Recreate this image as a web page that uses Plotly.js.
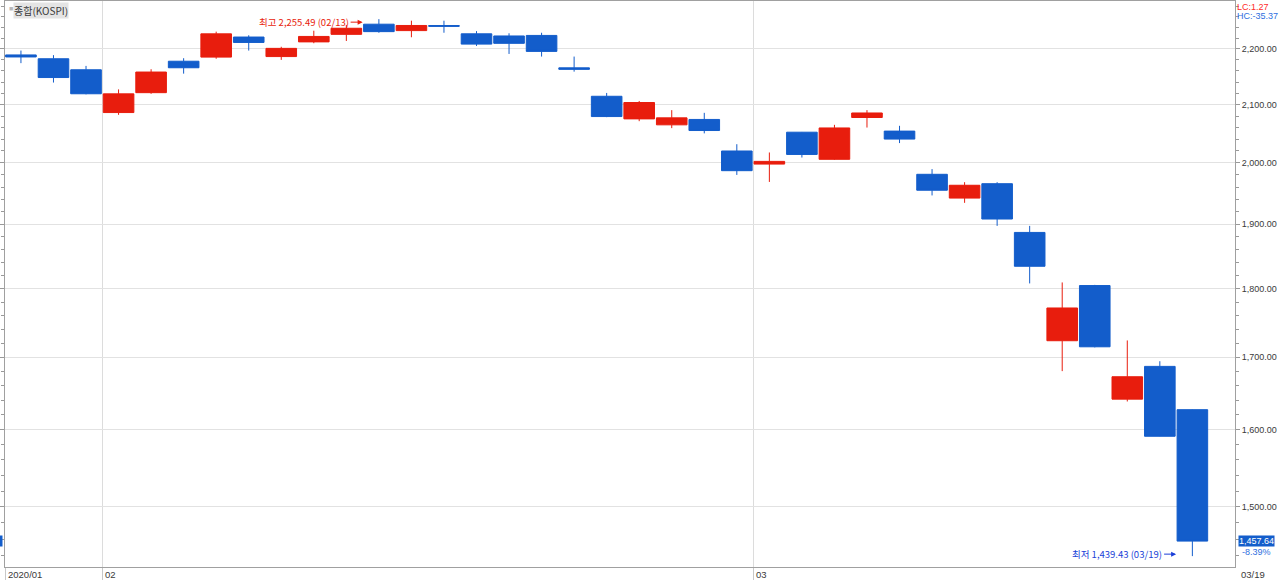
<!DOCTYPE html>
<html>
<head>
<meta charset="utf-8">
<script src="https://cdn.plot.ly/plotly-3.0.1.min.js"></script>
<style>
  html, body { margin: 0; padding: 0; background: #ffffff; }
  #chart { width: 1280px; height: 580px; }
</style>
</head>
<body>
<div id="chart"></div>
<script>
// ---- data (KOSPI daily, 2020/01/29 - 2020/03/19) ----
const dates = ['01/29','01/30','01/31',
  '02/03','02/04','02/05','02/06','02/07','02/10','02/11','02/12','02/13','02/14',
  '02/17','02/18','02/19','02/20','02/21','02/24','02/25','02/26','02/27','02/28',
  '03/02','03/03','03/04','03/05','03/06','03/09','03/10','03/11','03/12','03/13',
  '03/16','03/17','03/18','03/19'];
const openVals = [2189, 2182, 2162,
  2086, 2121, 2177.5, 2185, 2222, 2186, 2213, 2227, 2246, 2234,
  2243.5, 2228, 2224, 2225, 2165.5, 2114.6, 2075, 2064.7, 2074, 2020,
  1998, 2052, 2006, 2077.4, 2053.9, 1981, 1942, 1965.5, 1887, 1723.6,
  1805, 1641.4, 1687, 1627];
const highVals = [2197, 2188.6, 2169,
  2126.8, 2163, 2183, 2232, 2225.3, 2204, 2233.8, 2244.6, 2255.49, 2252.6,
  2252.6, 2233, 2229, 2230, 2186, 2120.5, 2106.3, 2090.2, 2085.5, 2031.5,
  2017.5, 2052.4, 2064.7, 2090.2, 2063, 1989.6, 1968, 1968, 1897.4, 1809.7,
  1806, 1724, 1694.3, 1627.3];
const lowVals = [2174, 2139, 2118,
  2082, 2119, 2155, 2182, 2197, 2180, 2210.5, 2214.7, 2230, 2221.6,
  2230, 2205.5, 2190.8, 2186, 2158.6, 2078, 2071, 2059, 2050, 1980,
  1968.4, 2009, 2005, 2060, 2033.4, 1946.3, 1934.3, 1897.4, 1808.2, 1680.3,
  1714, 1638.2, 1591, 1439.43];
const closeVals = [2185.28, 2148.00, 2119.01,
  2118.88, 2157.90, 2165.63, 2227.94, 2211.95, 2201.07, 2223.12, 2238.38, 2232.08, 2243.59,
  2242.17, 2208.88, 2210.34, 2195.50, 2162.84, 2079.04, 2103.61, 2076.77, 2054.89, 1987.01,
  2002.51, 2014.15, 2059.33, 2085.26, 2040.22, 1954.77, 1962.93, 1908.27, 1834.33, 1771.44,
  1714.86, 1672.44, 1591.20, 1457.64];
const yearLabel = '2020';
const seriesName = '종합(KOSPI)';
const yTickVals = [1500, 1600, 1700, 1800, 1900, 2000, 2100, 2200];

// ---- derived ----
const idx = dates.map((d, i) => i);
const fmt2 = v => v.toLocaleString('en-US', {minimumFractionDigits: 2, maximumFractionDigits: 2});
const L = v => Math.log10(v); // annotation coordinates on a log axis
let hiIdx = 0, loIdx = 0;
highVals.forEach((v, i) => { if (v > highVals[hiIdx]) hiIdx = i; });
lowVals.forEach((v, i) => { if (v < lowVals[loIdx]) loIdx = i; });
const last = closeVals.length - 1;
const lastClose = closeVals[last];
const chg = (lastClose / closeVals[last - 1] - 1) * 100;
const lc = (lastClose / lowVals[loIdx] - 1) * 100;
const hc = (lastClose / highVals[hiIdx] - 1) * 100;

const xRange = [-0.49, dates.length - 1 + 1.31];
const monthBounds = [];
const monthLabels = [];
dates.forEach((d, i) => {
  if (i > 0 && d.slice(0, 2) !== dates[i - 1].slice(0, 2)) {
    monthBounds.push(i - 0.5);
    monthLabels.push(d.slice(0, 2));
  }
});
const minorVals = [];
for (let v = 1440; v <= 2300; v += 20) if (v % 100 !== 0) minorVals.push(v);

const RED = '#e81d0d';
const BLUE = '#135dcb';
const GRAY_TXT = '#3a3a3a';
const baseFont = 'Liberation Sans, Arial, sans-serif';
const krFont = 'Noto Sans CJK KR, sans-serif';

const trace = {
  type: 'candlestick',
  x: idx,
  open: openVals, high: highVals, low: lowVals, close: closeVals,
  increasing: { line: { color: RED, width: 1 }, fillcolor: RED },
  decreasing: { line: { color: BLUE, width: 1 }, fillcolor: BLUE },
  whiskerwidth: 0,
  hoverinfo: 'skip',
  showlegend: false
};

const annotations = [
  { xref: 'paper', yref: 'paper', x: 8 / 1230, y: 1, xanchor: 'left', yanchor: 'top', yshift: -1,
    text: seriesName, showarrow: false, bgcolor: '#e4e4e4', borderpad: 0,
    font: { family: krFont, size: 10, color: GRAY_TXT } },
  { xref: 'paper', yref: 'paper', x: 1.5 / 1230, y: 1, xanchor: 'left', yanchor: 'top', yshift: -2,
    text: '■', showarrow: false, font: { family: baseFont, size: 7, color: '#b8b8b8' } },
  { xref: 'paper', yref: 'paper', x: 1, y: 1, xanchor: 'left', yanchor: 'top', xshift: 0, yshift: 1,
    text: 'LC:' + lc.toFixed(2), showarrow: false, font: { family: baseFont, size: 9, color: '#ff2a2a' } },
  { xref: 'paper', yref: 'paper', x: 1, y: 1, xanchor: 'left', yanchor: 'top', xshift: 0, yshift: -8,
    text: 'HC:' + hc.toFixed(2), showarrow: false, font: { family: baseFont, size: 9, color: '#2f6fe0' } },
  { x: hiIdx - 0.5, y: L(highVals[hiIdx]), xref: 'x', yref: 'y', yshift: -3,
    text: '최고 ' + fmt2(highVals[hiIdx]) + ' (' + dates[hiIdx] + ')',
    showarrow: true, ax: -12, ay: 0, xanchor: 'right', arrowhead: 2, arrowsize: 1, arrowwidth: 1,
    arrowcolor: RED, standoff: 0, startstandoff: 0,
    font: { family: krFont, size: 9.5, color: RED } },
  { x: loIdx - 0.5, y: L(lowVals[loIdx]), xref: 'x', yref: 'y', yshift: 2,
    text: '최저 ' + fmt2(lowVals[loIdx]) + ' (' + dates[loIdx] + ')',
    showarrow: true, ax: -12, ay: 0, xanchor: 'right', arrowhead: 2, arrowsize: 1, arrowwidth: 1,
    arrowcolor: '#1a3fd8', standoff: 0, startstandoff: 0,
    font: { family: krFont, size: 9.5, color: '#1a3fd8' } },
  { xref: 'paper', yref: 'y', x: 1, y: L(lastClose), xanchor: 'left', yanchor: 'middle', xshift: 3,
    text: fmt2(lastClose), showarrow: false, bgcolor: BLUE, borderpad: 0,
    font: { family: baseFont, size: 9, color: '#ffffff' } },
  { xref: 'paper', yref: 'y', x: 1, y: L(lastClose), xanchor: 'left', yanchor: 'middle', xshift: 5, yshift: -11,
    text: chg.toFixed(2) + '%', showarrow: false,
    font: { family: baseFont, size: 9, color: '#2f6fe0' } },
  { xref: 'paper', yref: 'y', x: 0, y: L(lastClose), xanchor: 'right', yanchor: 'middle', xshift: -2,
    text: '&nbsp;', showarrow: false, bgcolor: BLUE, borderpad: 0,
    font: { family: baseFont, size: 9, color: BLUE } },
  { xref: 'x', yref: 'paper', x: xRange[0], y: 0, xanchor: 'left', yanchor: 'top', xshift: 1, yshift: 0,
    text: yearLabel + '/' + dates[0].slice(0, 2), showarrow: false,
    font: { family: baseFont, size: 9.5, color: GRAY_TXT } },
  { xref: 'paper', yref: 'paper', x: 1, y: 0, xanchor: 'left', yanchor: 'top', xshift: 4, yshift: 0,
    text: dates[last], showarrow: false,
    font: { family: baseFont, size: 9.5, color: GRAY_TXT } }
];
monthBounds.forEach((b, k) => {
  annotations.push({ xref: 'x', yref: 'paper', x: b, y: 0, xanchor: 'left', yanchor: 'top', xshift: 1,
    text: monthLabels[k], showarrow: false, font: { family: baseFont, size: 9.5, color: GRAY_TXT } });
});

const layout = {
  width: 1280, height: 580,
  margin: { l: 5, r: 45, t: 1, b: 13, pad: 0 },
  paper_bgcolor: '#ffffff', plot_bgcolor: '#ffffff',
  showlegend: false,
  hovermode: false,
  boxgap: 0.06, boxgroupgap: 0,
  xaxis: {
    type: 'linear', range: xRange, rangeslider: { visible: false },
    tickmode: 'array', tickvals: [xRange[0]].concat(monthBounds),
    ticks: 'outside', ticklen: 13, tickcolor: '#c8c8c8', tickwidth: 1,
    showticklabels: false,
    showgrid: true, gridcolor: '#dcdcdc', gridwidth: 1,
    showline: true, linecolor: '#a0a0a0', linewidth: 1, mirror: true,
    zeroline: false, fixedrange: true
  },
  yaxis: {
    type: 'log', side: 'right',
    range: [Math.log10(1426.4), Math.log10(2290)],
    tickmode: 'array', tickvals: yTickVals, tickformat: ',.2f',
    ticks: 'outside', ticklen: 4, tickcolor: '#999999', tickwidth: 1,
    tickfont: { family: baseFont, size: 9, color: GRAY_TXT },
    showgrid: true, gridcolor: '#e2e2e2', gridwidth: 1,
    showline: true, linecolor: '#a0a0a0', linewidth: 1, mirror: 'ticks',
    minor: { tickmode: 'array', tickvals: minorVals, ticks: 'outside', ticklen: 3, tickcolor: '#999999', showgrid: false },
    zeroline: false, fixedrange: true
  },
  annotations: annotations
};

Plotly.newPlot('chart', [trace], layout, { displayModeBar: false, staticPlot: true });
</script>
</body>
</html>
